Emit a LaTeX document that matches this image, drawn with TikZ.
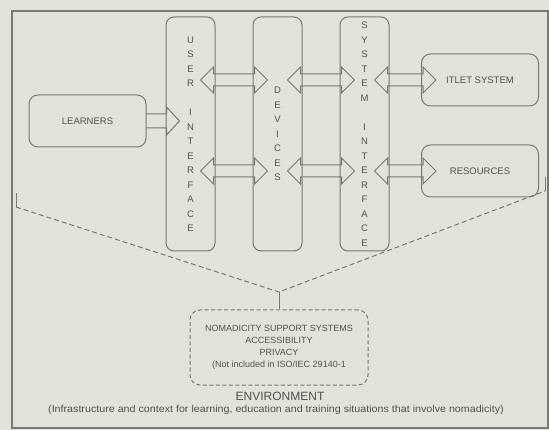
\documentclass[tikz,border=0pt]{standalone}
\usepackage{fontspec}
\setmainfont{Liberation Sans}
\usetikzlibrary{calc,positioning}
\definecolor{paper}{RGB}{226,226,221}
\definecolor{ink}{RGB}{120,120,116}
\definecolor{txt}{RGB}{80,80,78}

\begin{document}
\begin{tikzpicture}[x=1pt,y=-1pt,
every node/.style={text=txt},
col/.style={draw=ink,line width=1pt,rounded corners=8pt,minimum width=49pt,minimum height=234pt,
  inner sep=0pt,align=center,font=\fontsize{9.5}{14.5}\selectfont},
box/.style={draw=ink,line width=1pt,rounded corners=9pt,minimum width=117pt,minimum height=52pt,
  font=\fontsize{9.5}{11}\selectfont},
nombox/.style={draw=ink,line width=1pt,dash pattern=on 4pt off 2.5pt,rounded corners=10pt,
  minimum width=178pt,minimum height=75pt,align=center,font=\fontsize{9}{12}\selectfont},
dblarr/.style={draw=ink,line width=1pt,to path={let \p1=(\tikztostart),\p2=(\tikztotarget) in
  (\x1-15pt,\y1)--(\x1-2pt,\y1+13pt)--(\x1-2pt,\y1+6pt)--(\x2+2pt,\y1+6pt)--(\x2+2pt,\y1+13pt)
  --(\x2+15pt,\y1)--(\x2+2pt,\y1-13pt)--(\x2+2pt,\y1-6pt)--(\x1-2pt,\y1-6pt)--(\x1-2pt,\y1-13pt)--cycle}},
sglarr/.style={draw=ink,line width=1pt,to path={let \p1=(\tikztostart),\p2=(\tikztotarget) in
  (\x1,\y1+7pt)--(\x2+1pt,\y1+7pt)--(\x2+1pt,\y1+14pt)--(\x2+14pt,\y1)
  --(\x2+1pt,\y1-14pt)--(\x2+1pt,\y1-7pt)--(\x1,\y1-7pt)}},
link/.style={draw=ink,line width=1pt},
dlink/.style={draw=ink,line width=1pt,dash pattern=on 5pt off 3pt}]
\fill[paper] (0,0) rectangle (549,430);
\useasboundingbox (0,0) rectangle (549,430);
\draw[ink,line width=1.2pt] (12,11) rectangle (548,428);
\node[col] (ui) at (190.5,134) {U\\S\\E\\R\\~\\I\\N\\T\\E\\R\\F\\A\\C\\E};
\node[col,right=37pt of ui] (dev) {D\\E\\V\\I\\C\\E\\S};
\node[col,right=37pt of dev] (sys) {S\\Y\\S\\T\\E\\M\\~\\I\\N\\T\\E\\R\\F\\A\\C\\E};
\node[box] (learn) at (87.5,121) {LEARNERS};
\node[box] (itlet) at (480,80) {ITLET SYSTEM};
\node[box] (res) at (480,171) {RESOURCES};
\node[nombox] (nom) at (279,347.5) {NOMADICITY SUPPORT SYSTEMS\\ACCESSIBILITY\\PRIVACY\\(Not included in ISO/IEC 29140-1};
\node[font=\fontsize{12}{14}\selectfont] (env) at (280,396) {ENVIRONMENT};
\node[font=\fontsize{10}{11}\selectfont] (ctx) at (276,410) {\scalebox{1.07}[1]{(Infrastructure and context for learning, education and training situations that involve nomadicity)}};
\draw[sglarr] (learn.east) to (ui.west |- learn.east);
\draw[dblarr] (ui.east |- itlet.west) to (dev.west |- itlet.west);
\draw[dblarr] (dev.east |- itlet.west) to (sys.west |- itlet.west);
\draw[dblarr] (sys.east |- itlet.west) to (itlet.west);
\draw[dblarr] (ui.east |- res.west) to (dev.west |- res.west);
\draw[dblarr] (dev.east |- res.west) to (sys.west |- res.west);
\draw[dblarr] (sys.east |- res.west) to (res.west);
\coordinate (lt) at (16,193);
\coordinate (lb) at (16,207);
\coordinate (rt) at (545,177);
\coordinate (rb) at (545,191);
\coordinate (apex) at (279,292);
\draw[link] (lt)--(lb);
\draw[link] (rt)--(rb);
\draw[dlink] (lb)--(apex)--(rb);
\draw[link] (apex)--(nom.north);
\end{tikzpicture}
\end{document}
